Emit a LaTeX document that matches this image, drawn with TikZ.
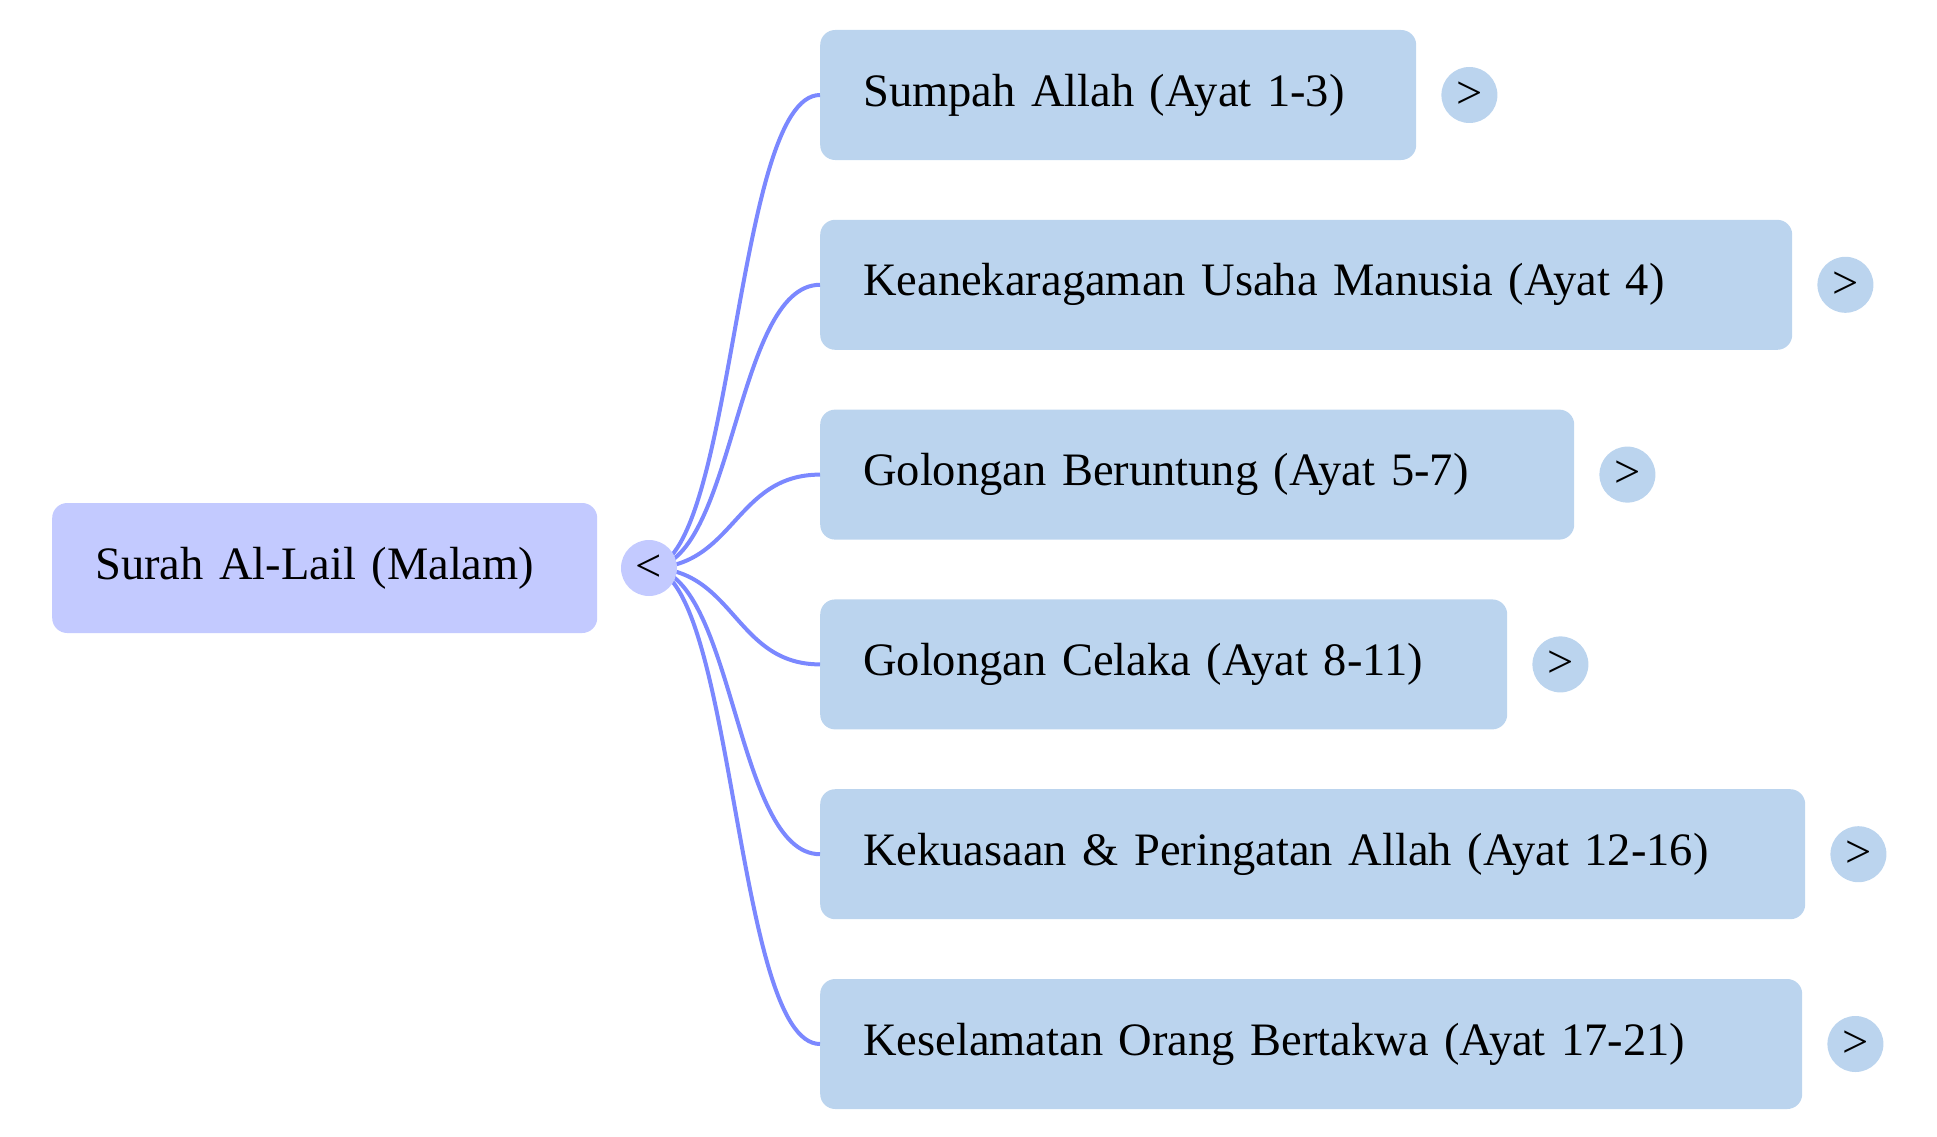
\documentclass[tikz,border=0pt]{standalone}
\usepackage{fontspec}
\setmainfont{Liberation Serif}
\usetikzlibrary{calc}
\definecolor{rootfill}{RGB}{195,202,255}
\definecolor{kidfill}{RGB}{187,212,238}
\definecolor{linkcol}{RGB}{123,136,255}
\begin{document}
\begin{tikzpicture}[x=1pt,y=-1pt,
  font=\fontsize{46.5}{55}\selectfont,
  rootbox/.style={fill=rootfill, rounded corners=15pt, minimum height=130pt,
    inner xsep=43pt, inner ysep=0pt, anchor=west, align=left},
  kidbox/.style={fill=kidfill, rounded corners=15pt, minimum height=130pt,
    inner xsep=43pt, inner ysep=0pt, anchor=west, align=left},
  toggle/.style={circle, minimum size=56pt, inner sep=0pt},
  link/.style={draw=linkcol, line width=4pt}]
\useasboundingbox (0,0) rectangle (1937,1137);
\coordinate (hub) at (649,568);
\coordinate (mid) at (734.5,0);
% root
\node[rootbox, text width=459pt] (root) at (52,568) {Surah Al-Lail (Malam)};
% children
\node[kidbox, text width=510pt] (c1) at (820,95) {Sumpah Allah (Ayat 1-3)};
\node[kidbox, text width=886pt] (c2) at (820,284.8) {Keanekaragaman Usaha Manusia (Ayat 4)};
\node[kidbox, text width=668pt] (c3) at (820,474.6) {Golongan Beruntung (Ayat 5-7)};
\node[kidbox, text width=601pt] (c4) at (820,664.4) {Golongan Celaka (Ayat 8-11)};
\node[kidbox, text width=899pt] (c5) at (820,854.2) {Kekuasaan \& Peringatan Allah (Ayat 12-16)};
\node[kidbox, text width=896pt] (c6) at (820,1044) {Keselamatan Orang Bertakwa (Ayat 17-21)};
% toggles
\foreach \i in {1,...,6}{
  \node[toggle, fill=kidfill] (t\i) at ($(c\i.east)+(53,0)$) {>};
}
% connectors
\foreach \i in {1,...,6}{
  \draw[link] (hub) .. controls (hub -| mid) and (c\i.west -| mid) .. (c\i.west);
}
\node[toggle, fill=rootfill] (rt) at (hub) {<};
\end{tikzpicture}
\end{document}
